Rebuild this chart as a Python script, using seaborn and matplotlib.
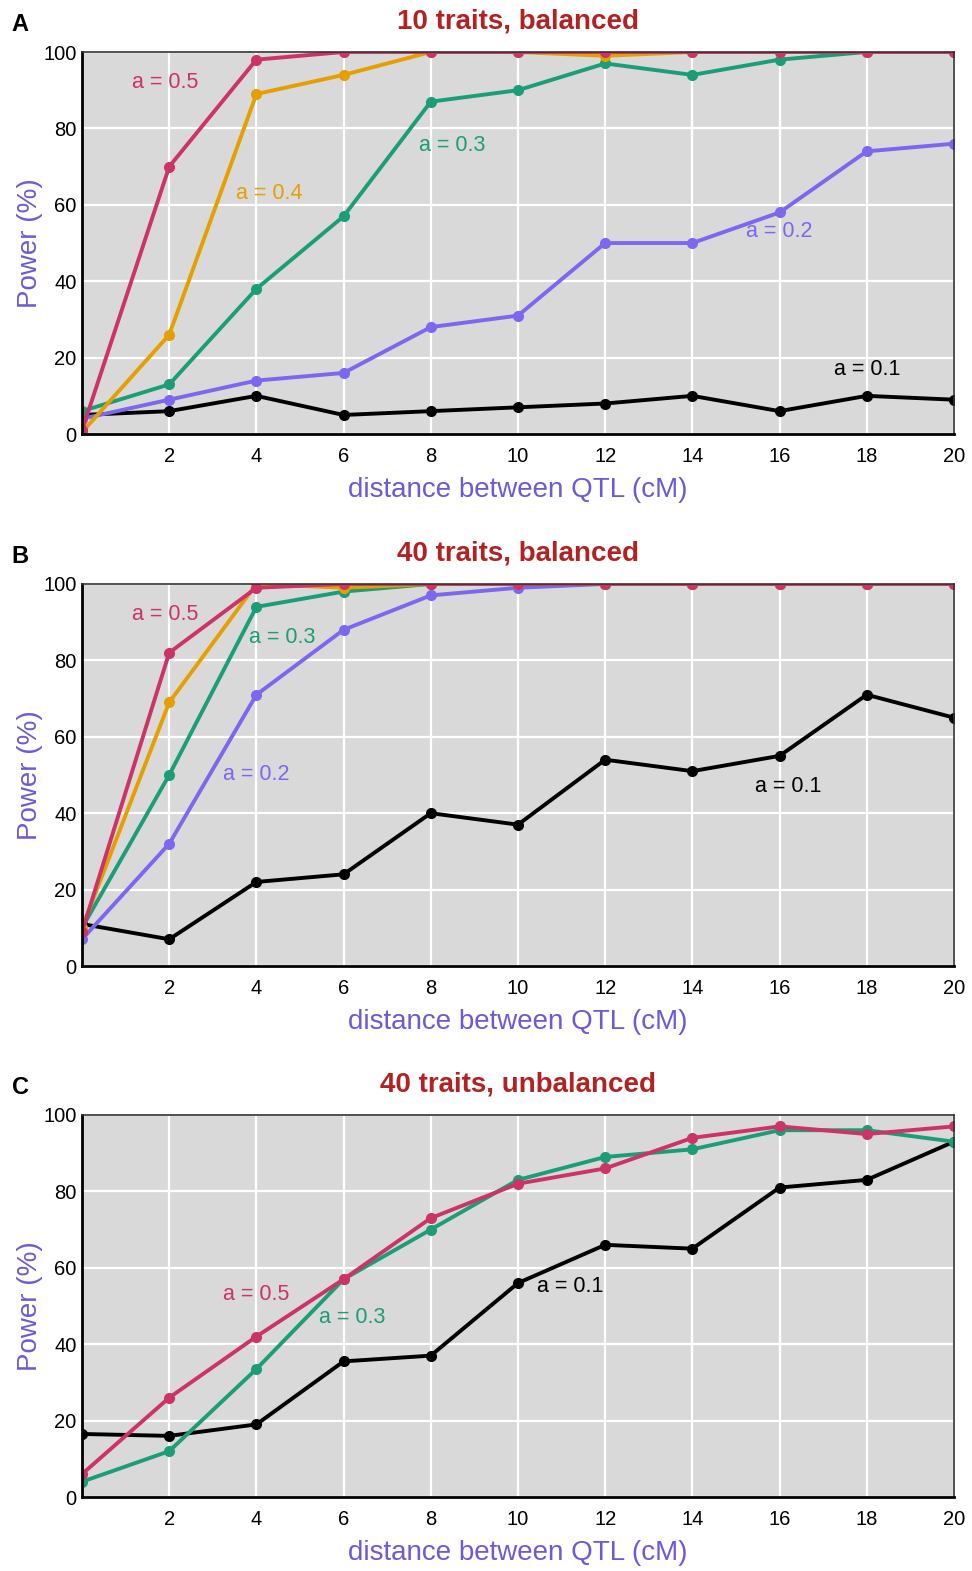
"""Power vs distance between QTL, three panels."""

import matplotlib

matplotlib.use("Agg")
import matplotlib.pyplot as plt
import pandas as pd
import seaborn as sns

distance = [0, 2, 4, 6, 8, 10, 12, 14, 16, 18, 20]

# panel A: 10 traits, balanced
a10_05 = [1, 70, 98, 100, 100, 100, 100, 100, 100, 100, 100]
a10_04 = [0.5, 26, 89, 94, 100, 100, 99, 100, 100, 100, 100]
a10_03 = [6, 13, 38, 57, 87, 90, 97, 94, 98, 100, 100]
a10_02 = [4, 9, 14, 16, 28, 31, 50, 50, 58, 74, 76]
a10_01 = [5, 6, 10, 5, 6, 7, 8, 10, 6, 10, 9]

# panel B: 40 traits, balanced
b40_05 = [9, 82, 99, 100, 100, 100, 100, 100, 100, 100, 100]
b40_04 = [10, 69, 100, 99, 100, 100, 100, 100, 100, 100, 100]
b40_03 = [10, 50, 94, 98, 100, 100, 100, 100, 100, 100, 100]
b40_02 = [7, 32, 71, 88, 97, 99, 100, 100, 100, 100, 100]
b40_01 = [11, 7, 22, 24, 40, 37, 54, 51, 55, 71, 65]

# panel C: 40 traits, unbalanced
c40_05 = [6, 26, 42, 57, 73, 82, 86, 94, 97, 95, 97]
c40_03 = [4, 12, 33.5, 57, 70, 83, 89, 91, 96, 96, 93]
c40_01 = [16.5, 16, 19, 35.5, 37, 56, 66, 65, 81, 83, 93]

titles = ["10 traits, balanced", "40 traits, balanced", "40 traits, unbalanced"]
panel_letters = ["A", "B", "C"]

colors = {
    "a = 0.1": "#000000",
    "a = 0.2": "#7B68EE",
    "a = 0.3": "#1B9E77",
    "a = 0.4": "#E69F00",
    "a = 0.5": "#CC3366",
}

panels = [
    {"a = 0.1": a10_01, "a = 0.2": a10_02, "a = 0.3": a10_03, "a = 0.4": a10_04, "a = 0.5": a10_05},
    {"a = 0.1": b40_01, "a = 0.2": b40_02, "a = 0.3": b40_03, "a = 0.4": b40_04, "a = 0.5": b40_05},
    {"a = 0.1": c40_01, "a = 0.3": c40_03, "a = 0.5": c40_05},
]

# where each curve's label sits (data coords)
label_pos = [
    {"a = 0.5": (1.9, 92), "a = 0.4": (4.3, 63), "a = 0.3": (8.5, 75.5),
     "a = 0.2": (16.0, 53), "a = 0.1": (18.0, 17)},
    {"a = 0.5": (1.9, 92), "a = 0.3": (4.6, 86), "a = 0.2": (4.0, 50),
     "a = 0.1": (16.2, 47)},
    {"a = 0.5": (4.0, 53), "a = 0.3": (6.2, 47), "a = 0.1": (11.2, 55)},
]

label_color = "#6B5BD6"
title_color = "#B22222"

sns.set_theme(style="darkgrid")
plt.rcParams["font.family"] = ["Liberation Sans", "DejaVu Sans"]

fig = plt.figure(figsize=(9.72, 15.71), dpi=100)
bottoms = [0.7237, 0.3851, 0.0471]

for i, series in enumerate(panels):
    ax = fig.add_axes([0.0844, bottoms[i], 0.897, 0.2432])
    ax.set_facecolor("#D9D9D9")

    rows = []
    for name, vals in series.items():
        for d, v in zip(distance, vals):
            rows.append({"distance": d, "power": v, "effect": name})
    df = pd.DataFrame(rows)

    # strongest effect ends up on top
    for name in series.keys():
        sub = df[df["effect"] == name]
        sns.lineplot(data=sub, x="distance", y="power", color=colors[name],
                     marker="o", markersize=8, markeredgewidth=0,
                     linewidth=2.8, ax=ax, legend=False)

    for name, (lx, ly) in label_pos[i].items():
        ax.text(lx, ly, name, color=colors[name], fontsize=15.5,
                ha="center", va="center")

    ax.set_xlim(0, 20)
    ax.set_ylim(0, 100)
    ax.set_xticks([2, 4, 6, 8, 10, 12, 14, 16, 18, 20])
    ax.set_yticks([0, 20, 40, 60, 80, 100])
    ax.grid(True, color="white", linewidth=1.6)
    ax.tick_params(axis="both", labelsize=14.5, length=0, pad=4, colors="black")
    ax.tick_params(axis="x", pad=9)

    for side in ["left", "bottom"]:
        ax.spines[side].set_visible(True)
        ax.spines[side].set_color("black")
        ax.spines[side].set_linewidth(2)
    for side in ["top", "right"]:
        ax.spines[side].set_visible(True)
        ax.spines[side].set_color("#333333")
        ax.spines[side].set_linewidth(1.2)

    ax.set_xlabel("distance between QTL (cM)", color=label_color, fontsize=20, labelpad=8)
    ax.set_ylabel("Power (%)", color=label_color, fontsize=20, labelpad=0)
    ax.set_title(titles[i], color=title_color, fontsize=20, fontweight="bold", pad=17)

    top = bottoms[i] + 0.2432
    fig.text(0.012, top + 0.0175, panel_letters[i], fontsize=17, color="black",
             fontweight="bold", ha="left", va="center")

fig.savefig("out.png", dpi=100)
